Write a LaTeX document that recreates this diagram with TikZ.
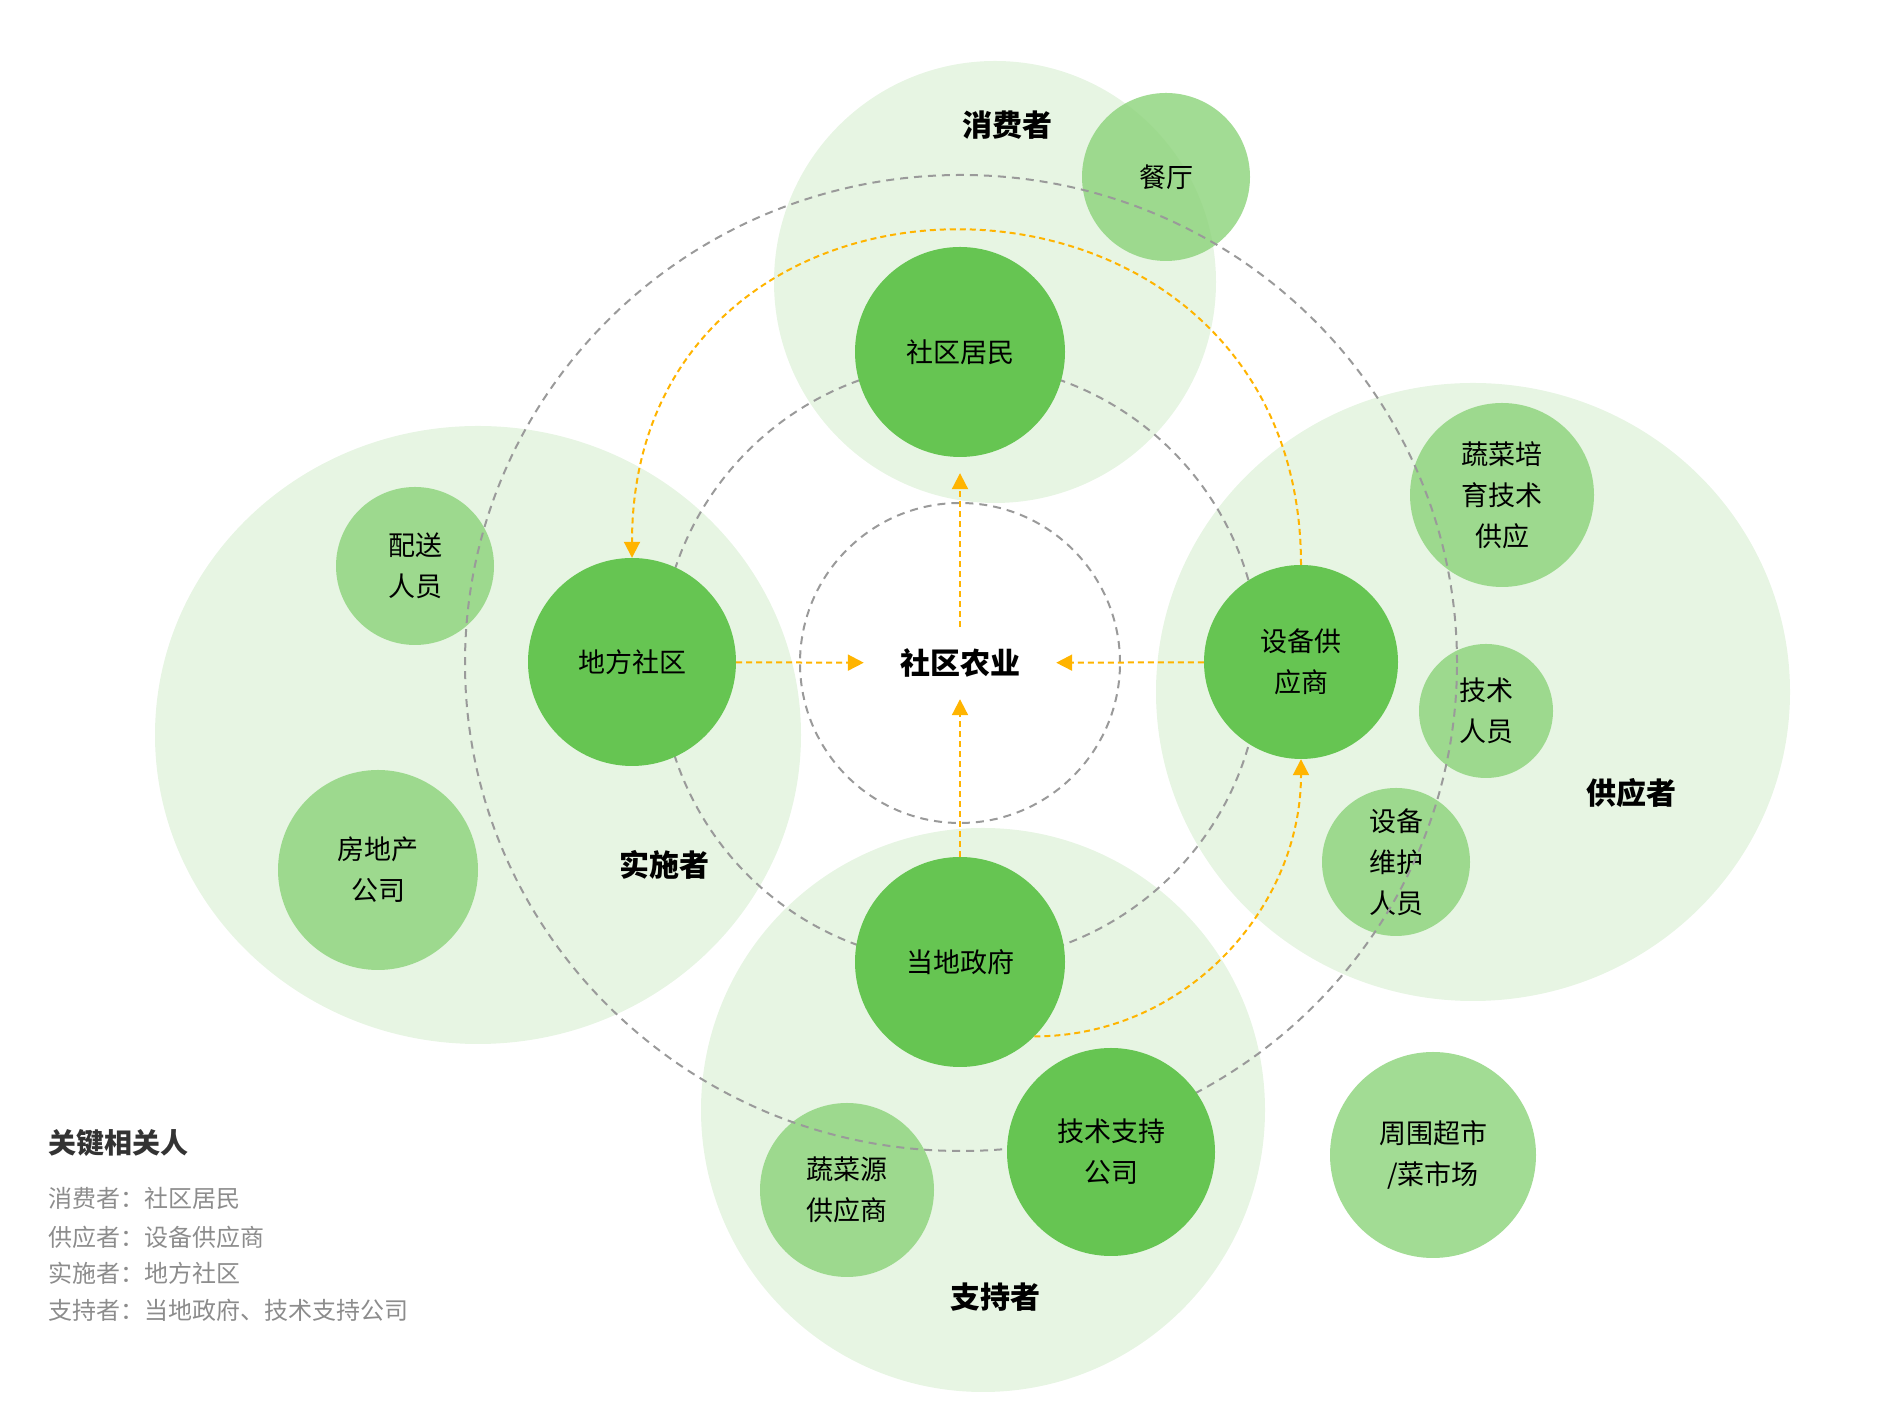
\documentclass[tikz,border=0pt]{standalone}
\usepackage{fontspec}
\setmainfont{Noto Sans CJK SC}
\usetikzlibrary{arrows.meta}
\definecolor{groupfill}{HTML}{E7F5E3}
\definecolor{majorfill}{HTML}{66C552}
\definecolor{minorfill}{HTML}{8BD379}
\definecolor{flowline}{HTML}{FFB400}
\definecolor{ringline}{HTML}{9A9A9A}
\definecolor{legendhead}{HTML}{333333}
\definecolor{legendtext}{HTML}{8C8C8C}

\begin{document}
\begin{tikzpicture}[x=1pt,y=1pt,
    major/.style={circle,fill=majorfill,inner sep=0pt,align=center,font=\fontsize{27}{41}\selectfont},
    minor/.style={circle,fill=minorfill,fill opacity=0.8,text opacity=1,inner sep=0pt,align=center,font=\fontsize{27}{41}\selectfont},
    ring/.style={draw=ringline,line width=2pt,dash pattern=on 8pt off 6pt},
    flow/.style={draw=flowline,line width=2pt,dash pattern=on 6pt off 4pt,-{Triangle[length=16pt,width=16pt]}},
    tag/.style={font=\bfseries\fontsize{30}{30}\selectfont}]
    \useasboundingbox (0,0) rectangle (1893,1423);
    \fill[groupfill] (995,1141) circle (221);
    \fill[groupfill] (478,688) ellipse (323 and 309);
    \fill[groupfill] (1473,731) ellipse (317 and 309);
    \fill[groupfill] (983,313) circle (282);

    \node[minor,minimum size=168] (ct) at (1166,1246) {餐厅};
    \node[minor,minimum size=158] (ps) at (415,857) {配送\\人员};
    \node[minor,minimum size=200] (fd) at (378,553) {房地产\\公司};
    \node[minor,minimum size=184] (py) at (1502,928) {蔬菜培\\育技术\\供应};
    \node[minor,minimum size=134] (jr) at (1486,712) {技术\\人员};
    \node[minor,minimum size=148] (wh) at (1396,561) {设备\\维护\\人员};
    \node[minor,minimum size=174] (sc) at (847,233) {蔬菜源\\供应商};
    \node[minor,minimum size=206] (cs) at (1433,268) {周围超市\\/菜市场};

    \draw[ring] (960,760) circle (160);
    \draw[ring] (960,760) circle (300);
    \draw[ring] (961,760) ellipse (496 and 488);

    \node[major,minimum size=210] (jm) at (960,1071) {社区居民};
    \node[major,minimum size=208] (df) at (632,761) {地方社区};
    \node[major,minimum size=194] (sb) at (1301,761) {设备供\\应商};
    \node[major,minimum size=210] (zf) at (960,461) {当地政府};
    \node[major,minimum size=208] (js) at (1111,271) {技术支持\\公司};
    \node[font=\bfseries\fontsize{30}{30}\selectfont,minimum width=192,minimum height=72] (hub) at (960,760) {社区农业};

    \draw[flow] (df) -- (hub);
    \draw[flow] (sb) -- (hub);
    \draw[flow] (zf) -- (hub);
    \draw[flow,shorten >=16pt] (hub) -- (jm);
    \draw[flow] (sb.north) to[out=90,in=90,looseness=1.68] (df.north);
    \draw[flow] (zf.south east) to[out=0,in=-90] (sb.south);

    \node[tag] (xf) at (1007,1298) {消费者};
    \node[tag] (ss) at (664,558) {实施者};
    \node[tag] (gy) at (1631,630) {供应者};
    \node[tag] (zc) at (995,126) {支持者};

    \node[anchor=west,inner sep=0pt,text=legendhead,font=\bfseries\fontsize{28}{28}\selectfont] (lg) at (48,280) {关键相关人};
    \foreach \y/\t in {225/消费者：社区居民,186/供应者：设备供应商,150/实施者：地方社区,113/支持者：当地政府、技术支持公司}
        \node[anchor=west,inner sep=0pt,text=legendtext,font=\fontsize{24}{24}\selectfont] at (48,\y) {\t};
\end{tikzpicture}
\end{document}
